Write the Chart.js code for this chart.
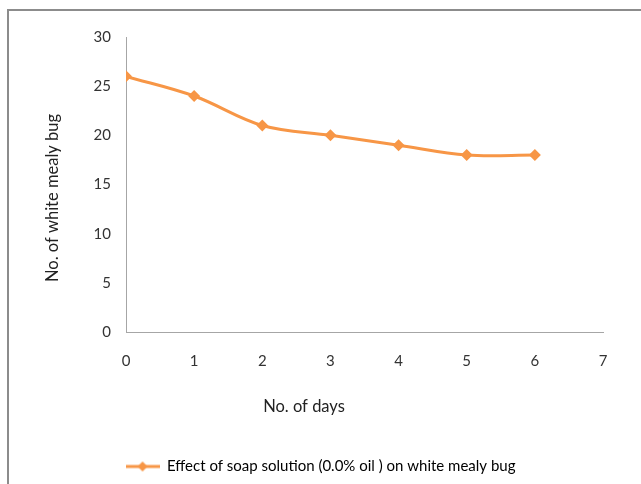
<!DOCTYPE html>
<html>
<head>
<meta charset="utf-8">
<script src="https://cdn.jsdelivr.net/npm/chart.js@4"></script>
<style>
    html, body { margin: 0; padding: 0; background: #fff; }
    #wrap { position: relative; width: 641px; height: 484px; overflow: hidden; }
    #frame {
        position: absolute; left: 7px; top: 9px; width: 700px; height: 500px;
        border-left: 2px solid #8c8c8c; border-top: 2px solid #8c8c8c;
    }
    canvas { position: absolute; left: 0; top: 0; }
</style>
</head>
<body>
<div id="wrap">
    <div id="frame"></div>
    <canvas id="chart" width="641" height="484"></canvas>
</div>
<script>
// Chart data
const days = [0, 1, 2, 3, 4, 5, 6];
const bugCounts = [26, 24, 21, 20, 19, 18, 18];
const xTicks = [0, 1, 2, 3, 4, 5, 6, 7];
const yTicks = [0, 5, 10, 15, 20, 25, 30];

const seriesLabel = 'Effect of soap solution (0.0% oil ) on white mealy bug';
const xTitle = 'No. of days';
const yTitle = 'No. of white mealy bug';

const orange = '#f79646';
const fontFamily = 'Lato, "Open Sans", sans-serif';

// Legend marker: line with a diamond in the middle
function legendMarker() {
    const c = document.createElement('canvas');
    c.width = 34; c.height = 12;
    const g = c.getContext('2d');
    g.strokeStyle = orange;
    g.lineWidth = 3;
    g.beginPath(); g.moveTo(0, 6); g.lineTo(34, 6); g.stroke();
    g.fillStyle = orange;
    g.beginPath(); g.moveTo(17, 1); g.lineTo(22, 6); g.lineTo(17, 11); g.lineTo(12, 6); g.closePath(); g.fill();
    return c;
}

// Axis titles drawn at fixed spots like the original
const axisTitles = {
    id: 'axisTitles',
    afterDraw(chart) {
        const ctx = chart.ctx;
        ctx.save();
        ctx.fillStyle = '#222';
        ctx.font = '16.5px ' + fontFamily;
        ctx.textAlign = 'center';
        ctx.textBaseline = 'middle';
        ctx.fillText(xTitle, 304, 407);
        ctx.translate(53, 198);
        ctx.rotate(-Math.PI / 2);
        ctx.fillText(yTitle, 0, 0);
        ctx.restore();
    }
};

new Chart(document.getElementById('chart'), {
    type: 'line',
    data: {
        datasets: [{
            label: seriesLabel,
            data: days.map((d, i) => ({ x: d, y: bugCounts[i] })),
            borderColor: orange,
            backgroundColor: orange,
            borderWidth: 3,
            tension: 0.35,
            pointStyle: 'rectRot',
            pointRadius: 6,
            pointHoverRadius: 6,
            pointBorderWidth: 0
        }]
    },
    options: {
        responsive: false,
        animation: false,
        layout: { padding: { left: 0, right: 0, top: 37, bottom: 0 } },
        plugins: {
            tooltip: { enabled: false },
            legend: {
                position: 'bottom',
                labels: {
                    usePointStyle: true,
                    pointStyleWidth: 34,
                    color: '#222',
                    font: { family: fontFamily, size: 15 },
                    padding: 11,
                    generateLabels: (chart) => [{
                        text: seriesLabel,
                        pointStyle: legendMarker(),
                        fillStyle: orange,
                        strokeStyle: orange,
                        lineWidth: 0,
                        datasetIndex: 0
                    }]
                }
            }
        },
        scales: {
            x: {
                type: 'linear',
                min: 0,
                max: 7,
                afterBuildTicks: (s) => { s.ticks = xTicks.map(v => ({ value: v })); },
                afterFit: (s) => { s.height = 116; },
                grid: { display: false, drawTicks: false },
                border: { color: '#a6a6a6', width: 1 },
                ticks: { color: '#333', padding: 20, font: { family: fontFamily, size: 15 } }
            },
            y: {
                min: 0,
                max: 30,
                afterBuildTicks: (s) => { s.ticks = yTicks.map(v => ({ value: v })); },
                afterFit: (s) => { s.width = 126; },
                grid: { display: false, drawTicks: false },
                border: { color: '#a6a6a6', width: 1 },
                ticks: { color: '#333', padding: 15, font: { family: fontFamily, size: 15 } }
            },
            // empty right-hand spacer so the legend stays centred on the canvas
            spacer: {
                position: 'right',
                min: 0,
                max: 30,
                afterFit: (s) => { s.width = 38; },
                grid: { display: false, drawTicks: false },
                border: { display: false },
                ticks: { display: false }
            }
        }
    },
    plugins: [axisTitles]
});
</script>
</body>
</html>
